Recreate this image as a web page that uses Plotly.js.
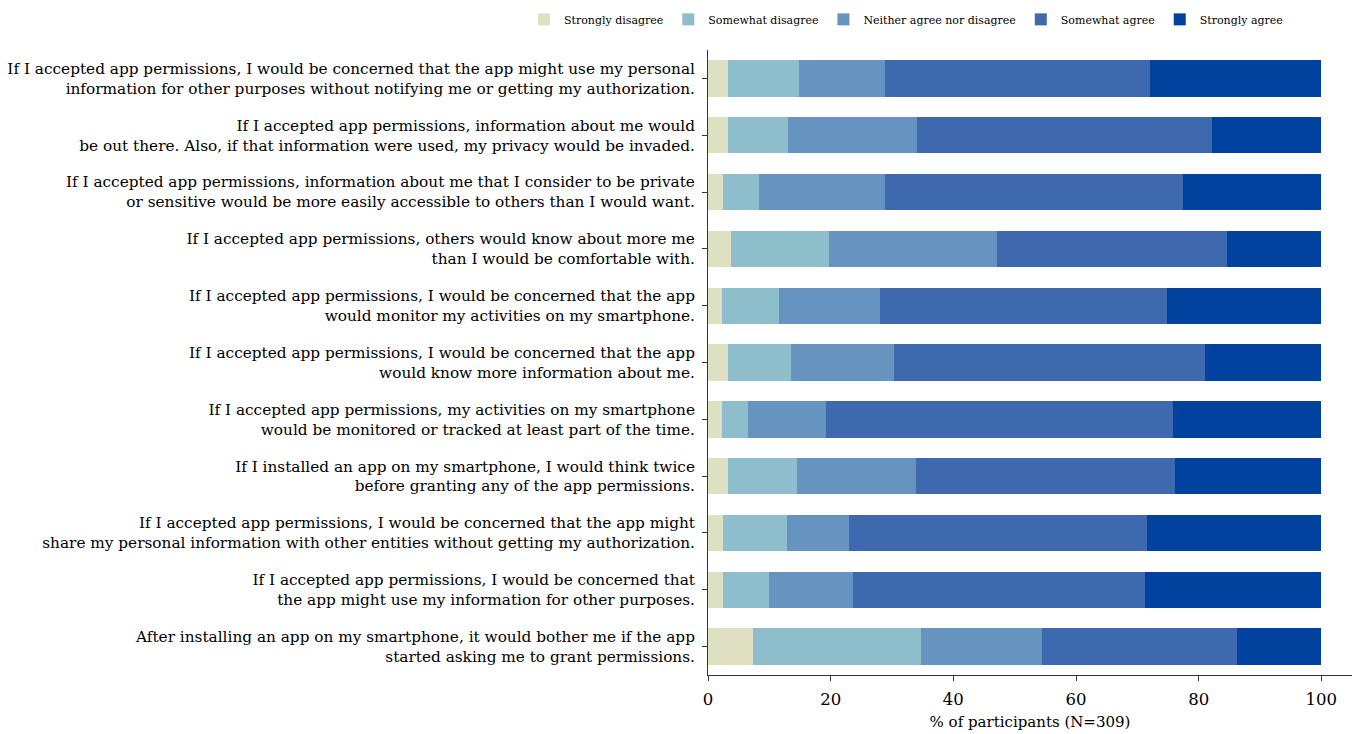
<!DOCTYPE html>
<html>
<head>
<meta charset="utf-8">
<script src="https://cdn.plot.ly/plotly-3.0.1.min.js"></script>
<style>html,body{margin:0;padding:0;background:#fff;}#chart{width:1357px;height:734px;}</style>
</head>
<body>
<div id="chart"></div>
<script>
const categories = [
  "If I accepted app permissions, I would be concerned that the app might use my personal<br>information for other purposes without notifying me or getting my authorization.",
  "If I accepted app permissions, information about me would<br>be out there. Also, if that information were used, my privacy would be invaded.",
  "If I accepted app permissions, information about me that I consider to be private<br>or sensitive would be more easily accessible to others than I would want.",
  "If I accepted app permissions, others would know about more me<br>than I would be comfortable with.",
  "If I accepted app permissions, I would be concerned that the app<br>would monitor my activities on my smartphone.",
  "If I accepted app permissions, I would be concerned that the app<br>would know more information about me.",
  "If I accepted app permissions, my activities on my smartphone<br>would be monitored or tracked at least part of the time.",
  "If I installed an app on my smartphone, I would think twice<br>before granting any of the app permissions.",
  "If I accepted app permissions, I would be concerned that the app might<br>share my personal information with other entities without getting my authorization.",
  "If I accepted app permissions, I would be concerned that<br>the app might use my information for other purposes.",
  "After installing an app on my smartphone, it would bother me if the app<br>started asking me to grant permissions."
];
const seriesNames = ["Strongly disagree", "Somewhat disagree", "Neither agree nor disagree", "Somewhat agree", "Strongly agree"];
const stronglyDisagree = [3.2, 3.2, 2.5, 3.8, 2.3, 3.2, 2.3, 3.2, 2.5, 2.5, 7.4];
const somewhatDisagree = [11.6, 9.9, 5.8, 15.9, 9.2, 10.3, 4.2, 11.3, 10.3, 7.4, 27.4];
const neitherAgree = [14.0, 20.9, 20.5, 27.5, 16.6, 16.9, 12.8, 19.4, 10.2, 13.7, 19.6];
const somewhatAgree = [43.3, 48.1, 48.7, 37.5, 46.7, 50.7, 56.5, 42.2, 48.5, 47.6, 31.9];
const stronglyAgree = [27.9, 17.9, 22.5, 15.3, 25.2, 18.9, 24.2, 23.9, 28.5, 28.8, 13.7];
const colors = ["#dfe0c1", "#8ebdcc", "#6693bf", "#3e69ae", "#00429d"];

const allValues = [stronglyDisagree, somewhatDisagree, neitherAgree, somewhatAgree, stronglyAgree];
const traces = allValues.map((vals, i) => ({
  type: "bar",
  orientation: "h",
  name: seriesNames[i],
  x: vals,
  y: categories,
  marker: {color: colors[i], line: {width: 0}},
  hoverinfo: "x+name"
}));

const serif = "DejaVu Serif, Liberation Serif, serif";
const layout = {
  width: 1357,
  height: 734,
  barmode: "stack",
  bargap: 0.36,
  paper_bgcolor: "#fff",
  plot_bgcolor: "#fff",
  margin: {l: 708, r: 5, t: 46, b: 59},
  font: {family: serif, size: 15.3, color: "#000"},
  showlegend: true,
  legend: {
    orientation: "h",
    x: -0.2857, xanchor: "left",
    y: 1.049, yanchor: "middle",
    font: {family: serif, size: 11, color: "#000"},
    traceorder: "normal",
    itemwidth: 30,
    bgcolor: "rgba(0,0,0,0)"
  },
  xaxis: {
    range: [0, 105],
    tickvals: [0, 20, 40, 60, 80, 100],
    ticks: "outside",
    ticklen: 5,
    tickcolor: "#333",
    showline: true,
    linecolor: "#333",
    linewidth: 1,
    showgrid: false,
    zeroline: false,
    ticklabelstandoff: 4,
    tickfont: {family: serif, size: 16.5, color: "#000"},
    title: {text: "% of participants (N=309)", font: {family: serif, size: 15, color: "#000"}, standoff: 8}
  },
  yaxis: {
    autorange: "reversed",
    ticks: "outside",
    ticklen: 5,
    tickcolor: "#333",
    showline: true,
    linecolor: "#333",
    linewidth: 1,
    showgrid: false,
    zeroline: false,
    ticklabelstandoff: 4,
    tickfont: {family: serif, size: 15.3, color: "#000"}
  }
};
Plotly.newPlot("chart", traces, layout, {displayModeBar: false, staticPlot: true});
</script>
</body>
</html>
